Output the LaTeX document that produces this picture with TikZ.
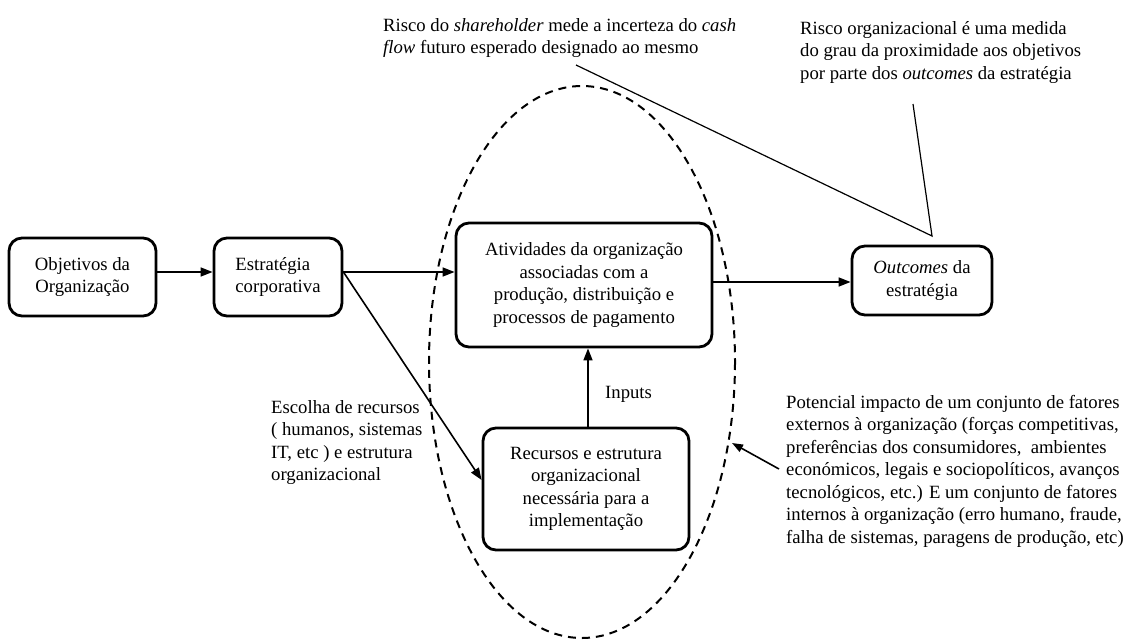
\documentclass[tikz,border=0pt]{standalone}
\usepackage{fontspec}
\setmainfont{Liberation Serif}
\usetikzlibrary{arrows.meta}
\begin{document}
\begin{tikzpicture}[x=1pt,y=-1pt,
  every node/.style={font=\fontsize{18.7}{22.5}\selectfont},
  box/.style={draw, line width=2.8pt, rounded corners=13pt, inner sep=0pt, align=center},
  conn/.style={line width=1.6pt, -{Triangle[length=12pt,width=9pt]}},
  leader/.style={line width=1.2pt},
  note/.style={align=left, inner sep=0pt, anchor=base west},
]
\useasboundingbox (0,0) rectangle (1127,642);

% dashed boundary around the organisation's operations
\draw[line width=2pt, dash pattern=on 8pt off 6pt] (582,362) ellipse [x radius=153, y radius=276];

% main boxes
\node[box, minimum width=147pt, minimum height=78pt] (obj) at (82.5,277) {Objetivos da\\Organização};
\node[box, minimum width=128pt, minimum height=78pt, align=left] (est) at (278,277) {Estratégia\\corporativa};
\node[box, minimum width=256pt, minimum height=124pt] (ativ) at (584,285) {Atividades da organização\\associadas com a\\produção, distribuição e\\processos de pagamento};
\node[box, minimum width=140pt, minimum height=69pt] (out) at (922,280.5) {\textit{Outcomes} da\\estratégia};
\node[box, minimum width=206pt, minimum height=122pt] (rec) at (586,489) {Recursos e estrutura\\organizacional\\necessária para a\\implementação};

% helper rows / columns for the connectors
\coordinate (ya) at (0,272);
\coordinate (yb) at (0,282);
\coordinate (yc) at (0,480);
\coordinate (xin) at (588,0);

\draw[conn] (obj.east |- ya) -- (est.west |- ya);
\draw[conn] (est.east |- ya) -- (ativ.west |- ya);
\draw[conn] (est.east |- ya) -- (rec.west |- yc);
\draw[conn] (ativ.east |- yb) -- (out.west |- yb);
\draw[conn] (rec.north -| xin) -- (ativ.south -| xin);

\node[note] (inp) at (605,398) {Inputs};

% multi-line notes are placed by the baseline of their last line
\node[note] (esc) at (271,480.5) {Escolha de recursos\\( humanos, sistemas\\IT, etc ) e estrutura\\organizacional};

\node[note] (ext) at (786,543) {Potencial impacto de um conjunto de fatores\\externos à organização (forças competitivas,\\preferências dos consumidores, \ ambientes\\económicos, legais e sociopolíticos, avanços\\tecnológicos, etc.) E um conjunto de fatores\\internos à organização (erro humano, fraude,\\falha de sistemas, paragens de produção, etc)};
\coordinate (extfrom) at (779,469);
\coordinate (hit) at (732,443);
\draw[conn, -{Triangle[length=11pt,width=8pt]}] (extfrom) -- (hit);

% risk definitions at the top
\node[note] (sh) at (383,54) {Risco do \textit{shareholder} mede a incerteza do \textit{cash}\\\textit{flow} futuro esperado designado ao mesmo};
\node[note] (org) at (800,79) {Risco organizacional é uma medida\\do grau da proximidade aos objetivos\\por parte dos \textit{outcomes} da estratégia};

\coordinate (shend) at (576,65);
\coordinate (orgend) at (913,104);
\coordinate (meet) at (932,236);
\draw[leader] (shend) -- (meet) -- (orgend);
\end{tikzpicture}
\end{document}
